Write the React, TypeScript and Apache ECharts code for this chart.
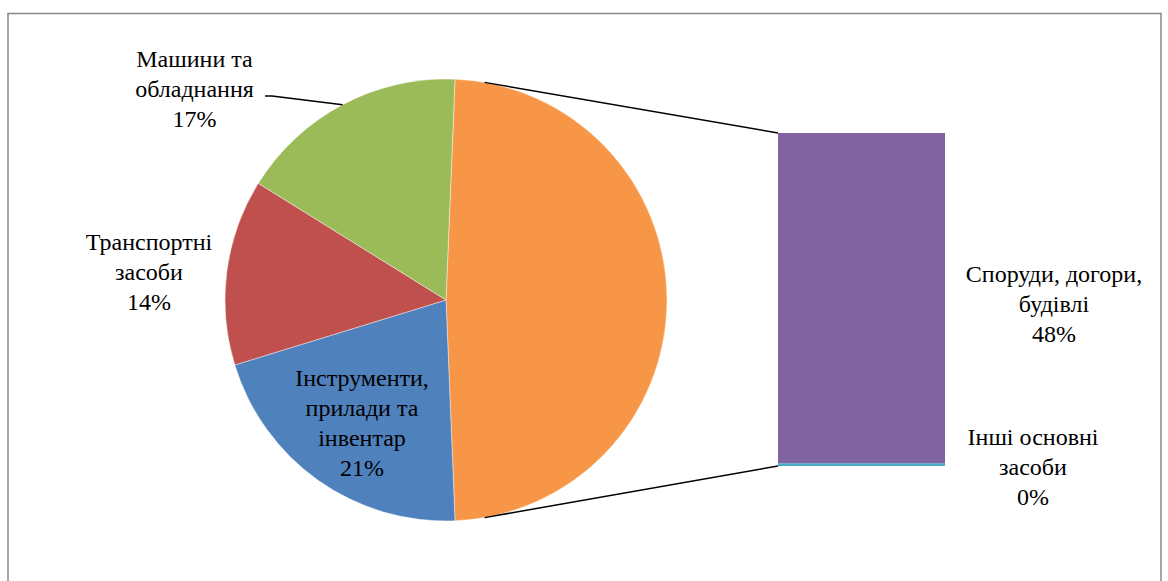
import React, { useEffect, useRef } from "react";
import * as echarts from "echarts";

// ---- data ----
const pieNames = ["Інструменти, прилади та інвентар", "Транспортні засоби", "Машини та обладнання"];
const pieValues = [20.9, 13.6, 16.8];
const pieColors = ["#4F81BD", "#C0504D", "#9BBB59"];
const barNames = ["Споруди, догори, будівлі", "Інші основні засоби"];
const barValues = [48.3, 0.4];
const barColors = ["#8064A2", "#4BACC6"];
const otherColor = "#F79646";

// label line breaks (as wrapped in the reference)
const pieLabelLines = [
  ["Інструменти,", "прилади та", "інвентар"],
  ["Транспортні", "засоби"],
  ["Машини та", "обладнання"],
];
const barLabelLines = [
  ["Споруди, догори,", "будівлі"],
  ["Інші основні", "засоби"],
];

// ---- layout ----
const W = 1168;
const H = 581;
const PIE_CX = 446;
const PIE_CY = 300;
const PIE_R = 221;
const BAR_LEFT = 778;
const BAR_TOP = 133;
const BAR_W = 167;
const BAR_H = 333;
const CONNECTOR_INSET = 7.7; // degrees
const LINE_H = 30.2;
const pieLabelTop: [number, number][] = [
  [362, 377.5],
  [149, 242],
  [194.5, 58.5],
];
const barLabelTop: [number, number][] = [
  [1054, 273.5],
  [1033, 436.5],
];
const LEADER_X = 265;
const LEADER_KINK = 272;
const LEADER_Y = 96;
const FONT_FAMILY = "serif";

const otherSum = barValues.reduce((a, b) => a + b, 0);
const total = otherSum + pieValues.reduce((a, b) => a + b, 0);
const pct = (v: number) => Math.round((v / total) * 100) + "%";

export default function App() {
  const ref = useRef<HTMLDivElement>(null);
  useEffect(() => {
    if (!ref.current) return;
    const chart = echarts.init(ref.current, null, { renderer: "svg" });
    const startAngle = (otherSum / total) * 180; // combined slice centred at 3 o'clock
    const compassStart = 90 - startAngle;
    const compassEnd = compassStart + (otherSum / total) * 360;
    const pt = (deg: number) => {
      const a = (deg * Math.PI) / 180;
      return [PIE_CX + PIE_R * Math.sin(a), PIE_CY - PIE_R * Math.cos(a)];
    };
    const pTop = pt(compassStart + CONNECTOR_INSET);
    const pBot = pt(compassEnd - CONNECTOR_INSET);
    const before = pieValues.slice(0, 2).reduce((a, b) => a + b, 0);
    const greenMid = compassEnd + ((before + pieValues[2] / 2) / total) * 360;
    const pGreen = pt(greenMid);

    const textEls: any[] = [];
    const addLabel = (lines: string[], v: number, pos: [number, number]) => {
      [...lines, pct(v)].forEach((t, k) => {
        textEls.push({
          type: "text",
          x: pos[0],
          y: pos[1] + k * LINE_H,
          z: 100,
          style: {
            text: t,
            fontFamily: FONT_FAMILY,
            fontSize: 24,
            fill: "#000",
            align: "center",
            verticalAlign: "middle",
          },
        });
      });
    };
    pieLabelLines.forEach((l, i) => addLabel(l, pieValues[i], pieLabelTop[i]));
    barLabelLines.forEach((l, i) => addLabel(l, barValues[i], barLabelTop[i]));

    const pieData = [
      { name: "Інші", value: otherSum, itemStyle: { color: otherColor } },
      ...pieNames.map((n, i) => ({ name: n, value: pieValues[i], itemStyle: { color: pieColors[i] } })),
    ];

    const order = barValues.map((_, i) => i).reverse();

    chart.setOption({
      animation: false,
      textStyle: { fontFamily: FONT_FAMILY, fontSize: 24 },
      grid: { left: BAR_LEFT, top: BAR_TOP, width: BAR_W, height: BAR_H },
      xAxis: { type: "category", data: ["bar"], show: false },
      yAxis: { type: "value", min: 0, max: otherSum, show: false },
      graphic: [
        {
          type: "rect",
          z: 100,
          shape: { x: 8, y: 13.5, width: 1153, height: 700 },
          style: { fill: "none", stroke: "#888", lineWidth: 1.5 },
        },
        {
          type: "line",
          z: 100,
          shape: { x1: pTop[0], y1: pTop[1], x2: BAR_LEFT, y2: BAR_TOP },
          style: { stroke: "#000", lineWidth: 1.5 },
        },
        {
          type: "line",
          z: 100,
          shape: { x1: pBot[0], y1: pBot[1], x2: BAR_LEFT, y2: BAR_TOP + BAR_H },
          style: { stroke: "#000", lineWidth: 1.5 },
        },
        {
          type: "polyline",
          z: 100,
          shape: { points: [[LEADER_X, LEADER_Y], [LEADER_KINK, LEADER_Y], pGreen] },
          style: { stroke: "#000", lineWidth: 1.5, fill: "none" },
        },
        ...textEls,
      ],
      series: [
        {
          type: "pie",
          center: [PIE_CX, PIE_CY],
          radius: [0, PIE_R],
          startAngle,
          clockwise: true,
          itemStyle: { borderColor: "rgba(255,255,255,0.7)", borderWidth: 0.6 },
          label: { show: false },
          labelLine: { show: false },
          data: pieData,
        },
        ...order.map((i) => ({
          type: "bar",
          name: barNames[i],
          stack: "other",
          barWidth: "100%",
          data: [barValues[i]],
          itemStyle: { color: barColors[i] },
          label: { show: false },
        })),
      ],
    });
    return () => chart.dispose();
  }, []);
  return (
    <div
      ref={ref}
      style={{ position: "fixed", left: 0, top: 0, width: W, height: H, background: "#fff" }}
    />
  );
}
